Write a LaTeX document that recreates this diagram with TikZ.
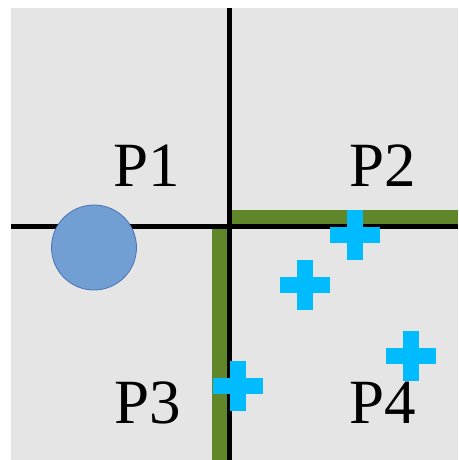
\documentclass[tikz,border=0pt]{standalone}
\usepackage{fontspec}
\setmainfont{Liberation Serif}
\definecolor{bg}{HTML}{E5E5E5}
\definecolor{grn}{HTML}{5F8729}
\definecolor{plus}{HTML}{00BCFF}
\definecolor{ballfill}{HTML}{729FD3}
\definecolor{balledge}{HTML}{4A72B0}
\tikzset{
  pluspic/.pic={
    \fill[plus] (-25,-8) rectangle (25,8);
    \fill[plus] (-8,-25) rectangle (8,25);
  },
  lbl/.style={anchor=base west, inner sep=0pt, font=\fontsize{63}{63}\selectfont},
  blackline/.style={line width=5pt, black},
  greenbar/.style={fill=grn},
}
\begin{document}
\begin{tikzpicture}[x=1pt,y=-1pt]
\useasboundingbox (0,0) rectangle (458,460);
\fill[bg] (11,8) rectangle (458,460);
% black dividing lines
\coordinate (hl) at (11,226.5);
\coordinate (hr) at (458,226.5);
\coordinate (vt) at (229.5,8);
\coordinate (vb) at (229.5,460);
\draw[blackline] (hl) -- (hr);
\draw[blackline] (vt) -- (vb);
% green bars
\fill[greenbar] (232,210) rectangle (458,224);
\fill[greenbar] (212,229) rectangle (227,460);
% labels
\node[lbl] (p1) at (113.5,186) {P1};
\node[lbl] (p2) at (349,186) {P2};
\node[lbl] (p3) at (114,423) {P3};
\node[lbl] (p4) at (349,423) {P4};
% circle
\node[circle, minimum size=85pt, inner sep=0pt, fill=ballfill, draw=balledge, line width=0.8pt] (ball) at (94,247.5) {};
% crosses
\pic at (355,235) {pluspic};
\pic at (304.5,285) {pluspic};
\pic at (411,356) {pluspic};
\pic at (237.5,385.5) {pluspic};
\end{tikzpicture}
\end{document}
